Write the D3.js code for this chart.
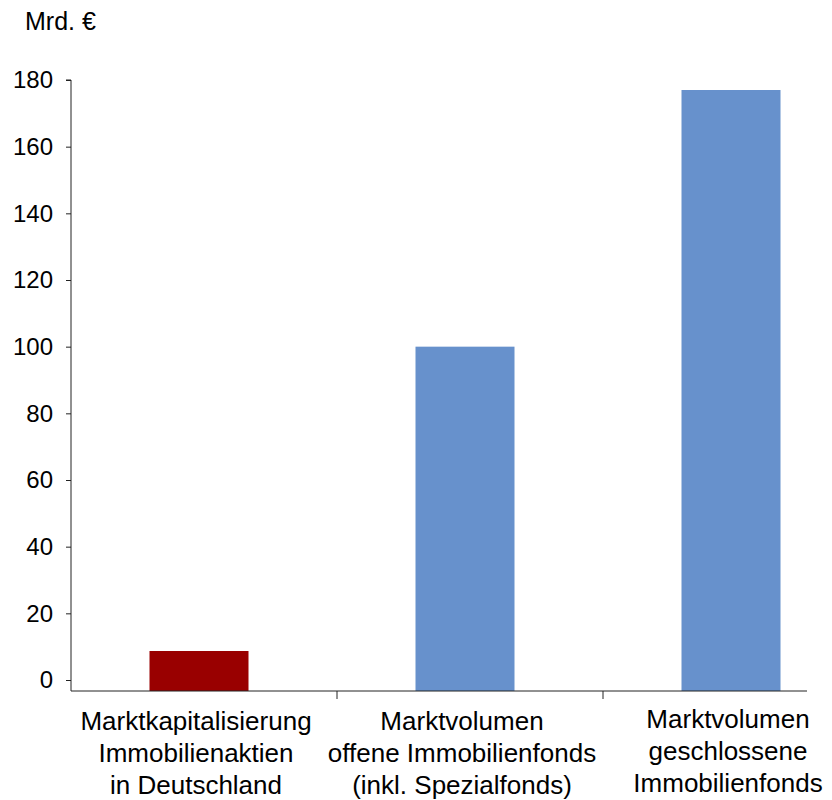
<!DOCTYPE html>
<html>
<head>
<meta charset="utf-8">
<script src="https://cdn.jsdelivr.net/npm/d3@7"></script>
<style>
  html, body { margin: 0; padding: 0; background: #fff; }
  svg { display: block; }
  text { font-family: "Liberation Sans", Arial, sans-serif; fill: #000; }
</style>
</head>
<body>
<div id="chart"></div>
<script>
// Categories (multi-line labels) and values in Mrd. €
const categories = [
  ["Marktkapitalisierung", "Immobilienaktien", "in Deutschland"],
  ["Marktvolumen", "offene Immobilienfonds", "(inkl. Spezialfonds)"],
  ["Marktvolumen", "geschlossene", "Immobilienfonds"]
];
const values = [8.7, 100, 177];
const barColors = ["#990000", "#6791cc", "#6791cc"];
const yTicks = [0, 20, 40, 60, 80, 100, 120, 140, 160, 180];
const unitLabel = "Mrd. €";

const W = 832, H = 800;
const svg = d3.select("#chart").append("svg").attr("width", W).attr("height", H);

const keys = categories.map((c, i) => "c" + i);

// Value axis: the category axis sits a little below zero
const y = d3.scaleLinear().domain([-3.3, 180]).range([691, 80]);

// Category bands
const x = d3.scaleBand().domain(keys).range([71, 869]).paddingInner(0).paddingOuter(0);
const barW = 99;
const barShift = -5;
const cx = k => x(k) + x.bandwidth() / 2 + barShift;

// Y axis
const yAxis = d3.axisLeft(y).tickValues(yTicks).tickSize(5).tickPadding(13).tickFormat(d3.format("d"));
const gy = svg.append("g").attr("transform", "translate(71,0)").call(yAxis);
gy.select(".domain").attr("d", `M-5,${y(180)}H0V${y(-3.3)}`).attr("stroke", "#222");
gy.selectAll(".tick line").attr("stroke", "#222");
gy.selectAll(".tick text").style("font-size", "24px").attr("font-family", null);

// Bars
svg.selectAll("rect.bar").data(values).join("rect")
  .attr("class", "bar")
  .attr("x", (d, i) => cx(keys[i]) - barW / 2)
  .attr("width", barW)
  .attr("y", d => y(d))
  .attr("height", d => y(-3.3) - y(d))
  .attr("fill", (d, i) => barColors[i]);

// Category axis line and dividers
const axisY = y(-3.3);
svg.append("line").attr("x1", 71).attr("x2", 807).attr("y1", axisY).attr("y2", axisY)
  .attr("stroke", "#222").attr("stroke-width", 1);
keys.slice(1).forEach(k => {
  svg.append("line").attr("x1", x(k)).attr("x2", x(k)).attr("y1", axisY).attr("y2", axisY + 8)
    .attr("stroke", "#222").attr("stroke-width", 1);
});

// Category labels
const lineY = [730, 762, 794];
categories.forEach((lines, i) => {
  const t = svg.append("text").attr("text-anchor", "middle").style("font-size", "26px");
  lines.forEach((ln, j) => {
    t.append("tspan").attr("x", cx(keys[i]) - 3).attr("y", lineY[j] - (i === 2 ? 2 : 0)).text(ln);
  });
});

// Unit label
svg.append("text").attr("x", 25).attr("y", 30).style("font-size", "25px").text(unitLabel);
</script>
</body>
</html>
